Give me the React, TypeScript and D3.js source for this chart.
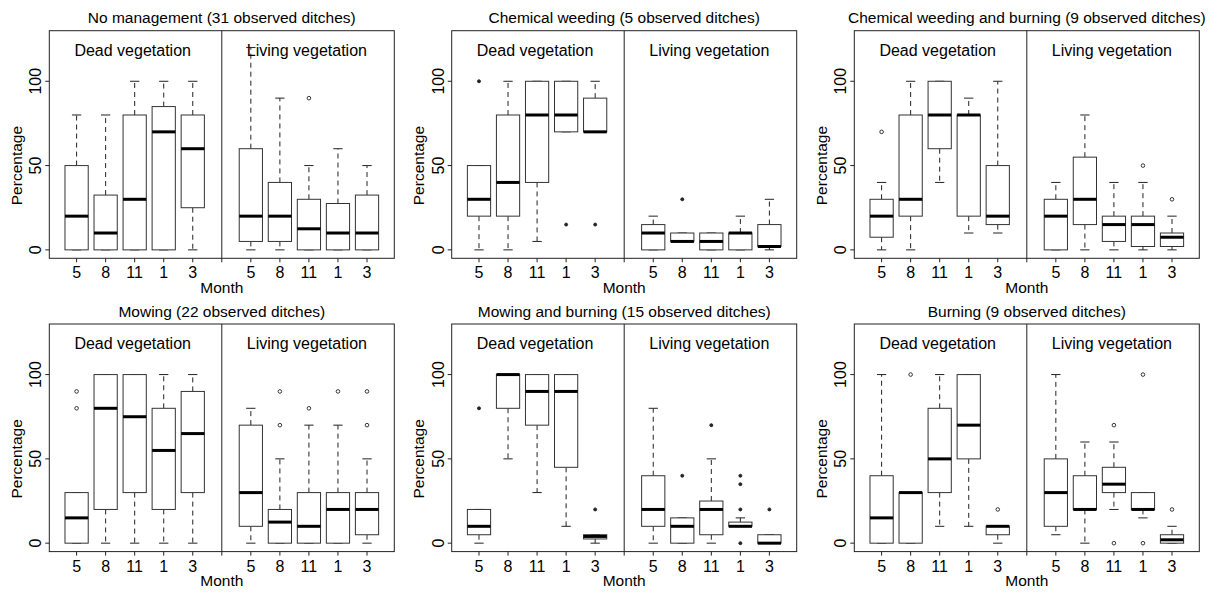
import React from "react";
import * as d3 from "d3";

// ---- data ----
const months = ["5", "8", "11", "1", "3"];
const groups = ["Dead vegetation", "Living vegetation"];
const yTicks = [0, 50, 100];

const titles = [
  "No management (31 observed ditches)",
  "Chemical weeding (5 observed ditches)",
  "Chemical weeding and burning (9 observed ditches)",
  "Mowing (22 observed ditches)",
  "Mowing and burning (15 observed ditches)",
  "Burning (9 observed ditches)",
];

// each row: [lower whisker, Q1, median, Q3, upper whisker]
const noMgmtDead = [[0, 0, 20, 50, 80], [0, 0, 10, 32.5, 80], [0, 0, 30, 80, 100], [0, 0, 70, 85, 100], [0, 25, 60, 80, 100]];
const noMgmtLiving = [[0, 5, 20, 60, 120], [0, 5, 20, 40, 90], [0, 0, 12.5, 30, 50], [0, 0, 10, 27.5, 60], [0, 0, 10, 32.5, 50]];
const noMgmtOutDead = [[], [], [], [], []];
const noMgmtOutLiving = [[], [], [90], [], []];

const chemDead = [[0, 20, 30, 50, 50], [0, 20, 40, 80, 100], [5, 40, 80, 100, 100], [70, 70, 80, 100, 100], [70, 70, 70, 90, 100]];
const chemLiving = [[0, 0, 10, 15, 20], [5, 5, 5, 10, 10], [0, 0, 5, 10, 10], [0, 0, 10, 10, 20], [0, 2, 2, 15, 30]];
const chemOutDead = [[100], [], [], [15], [15]];
const chemOutLiving = [[], [30], [], [], []];

const chemBurnDead = [[0, 7.5, 20, 30, 40], [0, 20, 30, 80, 100], [40, 60, 80, 100, 100], [10, 20, 80, 80, 90], [10, 15, 20, 50, 100]];
const chemBurnLiving = [[0, 0, 20, 30, 40], [0, 15, 30, 55, 80], [0, 5, 15, 20, 40], [0, 2, 15, 20, 40], [0, 2, 7.5, 10, 20]];
const chemBurnOutDead = [[70], [], [], [], []];
const chemBurnOutLiving = [[], [], [], [50], [30]];

const mowDead = [[0, 0, 15, 30, 30], [0, 20, 80, 100, 100], [0, 30, 75, 100, 100], [0, 20, 55, 80, 100], [0, 30, 65, 90, 100]];
const mowLiving = [[0, 10, 30, 70, 80], [0, 0, 12.5, 20, 50], [0, 0, 10, 30, 70], [0, 0, 20, 30, 70], [0, 5, 20, 30, 50]];
const mowOutDead = [[80, 90], [], [], [], []];
const mowOutLiving = [[], [70, 90], [80], [90], [70, 90]];

const mowBurnDead = [[0, 5, 10, 20, 20], [50, 80, 100, 100, 100], [30, 70, 90, 100, 100], [10, 45, 90, 100, 100], [0, 2.5, 4, 5, 5]];
const mowBurnLiving = [[0, 10, 20, 40, 80], [0, 0, 10, 15, 15], [0, 5, 20, 25, 50], [10, 10, 10, 12.5, 15], [0, 0, 0, 5, 5]];
const mowBurnOutDead = [[80], [], [], [], [20]];
const mowBurnOutLiving = [[], [40], [70], [0, 20, 35, 40], [20]];

const burnDead = [[0, 0, 15, 40, 100], [0, 0, 30, 30, 30], [10, 30, 50, 80, 100], [10, 50, 70, 100, 100], [0, 5, 10, 10, 10]];
const burnLiving = [[5, 10, 30, 50, 100], [0, 20, 20, 40, 60], [20, 30, 35, 45, 60], [15, 20, 20, 30, 30], [0, 0, 2, 5, 10]];
const burnOutDead = [[], [100], [], [], [20]];
const burnOutLiving = [[], [], [0, 70], [0, 100], [20]];

const panelStats = [
  [noMgmtDead, noMgmtLiving, noMgmtOutDead, noMgmtOutLiving],
  [chemDead, chemLiving, chemOutDead, chemOutLiving],
  [chemBurnDead, chemBurnLiving, chemBurnOutDead, chemBurnOutLiving],
  [mowDead, mowLiving, mowOutDead, mowOutLiving],
  [mowBurnDead, mowBurnLiving, mowBurnOutDead, mowBurnOutLiving],
  [burnDead, burnLiving, burnOutDead, burnOutLiving],
];
const filledDots = [false, true, false, false, true, false];

// ---- layout ----
const colLeft = [49.3, 451.7, 854.3];
const rowTop = [30.7, 324];
const plotW = 345;
const plotH = 227.6;
const FONT = "'Liberation Sans', Arial, Helvetica, sans-serif";

function Panel({ idx }: { idx: number }) {
  const left = colLeft[idx % 3];
  const top = rowTop[Math.floor(idx / 3)];
  const bottom = top + plotH;
  const right = left + plotW;
  const x = d3.scaleLinear().domain([0.06, 11.94]).range([left, right]);
  const y = d3.scaleLinear().domain([-5, 130]).range([bottom, top]);
  const [dead, living, outDead, outLiving] = panelStats[idx] as any;
  const halfBox = (x(1.4) - x(1)) ;
  const halfCap = (x(1.16) - x(1));
  const items: any[] = [];
  [dead, living].forEach((arr: number[][], g: number) => {
    arr.forEach((s, i) => {
      const pos = g * 6 + i + 1;
      items.push({ pos, s, out: (g === 0 ? outDead : outLiving)[i] });
    });
  });
  const tickPos = [1, 2, 3, 4, 5, 6, 7, 8, 9, 10, 11];
  return (
    <g>
      <text x={(left + right) / 2} y={top - 7.5} textAnchor="middle" fontSize={15.5} fontFamily={FONT}>
        {titles[idx]}
      </text>
      {items.map((it, k) => {
        const cx = x(it.pos);
        const [lo, q1, med, q3, hi] = it.s;
        return (
          <g key={k}>
            {hi > q3 && (
              <line x1={cx} x2={cx} y1={y(q3)} y2={y(hi)} stroke="#222" strokeDasharray="5,4" />
            )}
            {lo < q1 && (
              <line x1={cx} x2={cx} y1={y(q1)} y2={y(lo)} stroke="#222" strokeDasharray="5,4" />
            )}
            <line x1={cx - halfCap} x2={cx + halfCap} y1={y(hi)} y2={y(hi)} stroke="#222" />
            <line x1={cx - halfCap} x2={cx + halfCap} y1={y(lo)} y2={y(lo)} stroke="#222" />
            <rect x={cx - halfBox} y={y(q3)} width={2 * halfBox} height={Math.max(0.01, y(q1) - y(q3))} fill="white" stroke="#333" />
            <line x1={cx - halfBox} x2={cx + halfBox} y1={y(med)} y2={y(med)} stroke="black" strokeWidth={3} />
            {it.out.map((o: number, j: number) => (
              <circle key={j} cx={cx} cy={y(o)} r={filledDots[idx] ? 1.5 : 1.8}
                fill={filledDots[idx] ? "#222" : "none"} stroke="#222" strokeWidth={0.9} />
            ))}
          </g>
        );
      })}
      <rect x={left} y={top} width={plotW} height={plotH} fill="none" stroke="#222" strokeWidth={1} />
      <line x1={x(6)} x2={x(6)} y1={top} y2={bottom} stroke="#222" />
      {groups.map((gname, g) => (
        <text key={g} x={x(g * 6 + 3) - 2} y={top + 25} textAnchor="middle" fontSize={16} fontFamily={FONT}>
          {gname}
        </text>
      ))}
      {tickPos.map((p) => (
        <line key={p} x1={x(p)} x2={x(p)} y1={bottom} y2={bottom + 4} stroke="#222" />
      ))}
      {tickPos.filter((p) => p !== 6).map((p) => (
        <text key={"t" + p} x={x(p)} y={bottom + 20} textAnchor="middle" fontSize={16} fontFamily={FONT}>
          {months[(p - 1) % 6]}
        </text>
      ))}
      <text x={(left + right) / 2} y={bottom + 34.5} textAnchor="middle" fontSize={15.5} fontFamily={FONT}>
        Month
      </text>
      {yTicks.map((t) => (
        <g key={t}>
          <line x1={left - 4} x2={left} y1={y(t)} y2={y(t)} stroke="#222" />
          <text transform={`translate(${left - 8},${y(t)}) rotate(-90)`} textAnchor="middle" fontSize={16} fontFamily={FONT}>
            {t}
          </text>
        </g>
      ))}
      <text transform={`translate(${left - 27.5},${y(50)}) rotate(-90)`} textAnchor="middle" fontSize={15.5} fontFamily={FONT}>
        Percentage
      </text>
    </g>
  );
}

export default function App() {
  return (
    <svg width={1210} height={592} style={{ position: "absolute", left: 0, top: 0, background: "white" }}>
      <rect width={1210} height={592} fill="white" />
      {titles.map((_, i) => (
        <Panel key={i} idx={i} />
      ))}
    </svg>
  );
}
